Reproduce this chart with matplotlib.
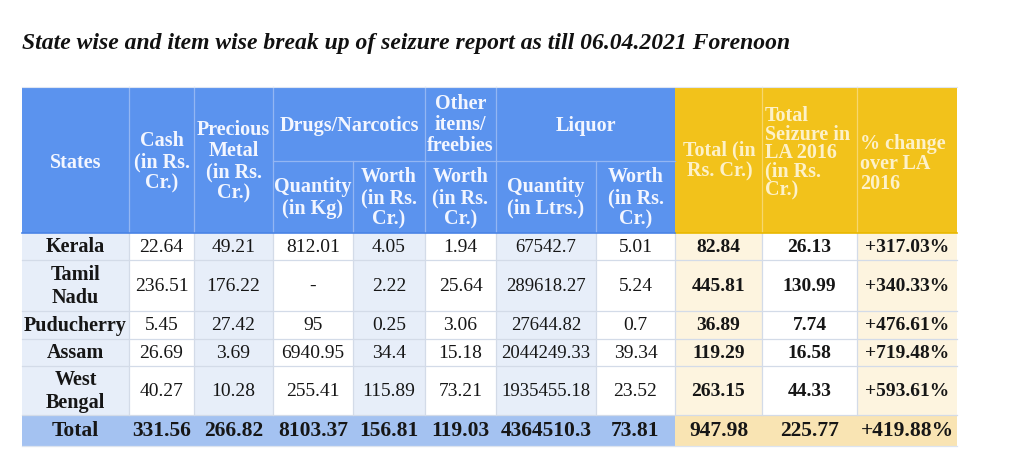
import matplotlib
matplotlib.use("Agg")
import matplotlib.pyplot as plt
from matplotlib.patches import Rectangle

# ---------------- data ----------------
title = "State wise and item wise break up of seizure report as till 06.04.2021 Forenoon"
states = ["Kerala", "Tamil\nNadu", "Puducherry", "Assam", "West\nBengal", "Total"]
cash = ["22.64", "236.51", "5.45", "26.69", "40.27", "331.56"]
precious_metal = ["49.21", "176.22", "27.42", "3.69", "10.28", "266.82"]
drugs_qty = ["812.01", "-", "95", "6940.95", "255.41", "8103.37"]
drugs_worth = ["4.05", "2.22", "0.25", "34.4", "115.89", "156.81"]
other_worth = ["1.94", "25.64", "3.06", "15.18", "73.21", "119.03"]
liquor_qty = ["67542.7", "289618.27", "27644.82", "2044249.33", "1935455.18", "4364510.3"]
liquor_worth = ["5.01", "5.24", "0.7", "39.34", "23.52", "73.81"]
total_rs = ["82.84", "445.81", "36.89", "119.29", "263.15", "947.98"]
total_2016 = ["26.13", "130.99", "7.74", "16.58", "44.33", "225.77"]
pct_change = ["+317.03%", "+340.33%", "+476.61%", "+719.48%", "+593.61%", "+419.88%"]

top_headers = ["States", "Cash\n(in Rs.\nCr.)", "Precious\nMetal\n(in Rs.\nCr.)",
               "Drugs/Narcotics", "Other\nitems/\nfreebies", "Liquor",
               "Total (in\nRs. Cr.)", "Total\nSeizure in\nLA 2016\n(in Rs.\nCr.)",
               "% change\nover LA\n2016"]
sub_headers = ["Quantity\n(in Kg)", "Worth\n(in Rs.\nCr.)", "Worth\n(in Rs.\nCr.)",
               "Quantity\n(in Ltrs.)", "Worth\n(in Rs.\nCr.)"]

columns = [states, cash, precious_metal, drugs_qty, drugs_worth, other_worth,
           liquor_qty, liquor_worth, total_rs, total_2016, pct_change]

# ---------------- layout ----------------
xb = [22, 129, 194, 273, 353, 425, 496, 596, 675, 762, 857, 957]
y_head_top, y_head_mid, y_head_bot = 87, 161, 233
yb = [233, 260, 311, 339, 366, 415, 446]

BLUE = "#5b93ee"
YELLOW = "#f2c21b"
BLUE_LIGHT = "#e7eef9"
YEL_LIGHT = "#fdf4df"
TOT_BLUE = "#a4c2f1"
TOT_YEL = "#f9e4b3"
GRID = "#d3dbe8"
HGRID_B = "#93b6f3"
HGRID_Y = "#f7d76e"
TXT = "#161616"
serif = ["Liberation Serif", "DejaVu Serif"]

fig = plt.figure(figsize=(10.33, 4.68), dpi=100)
ax = fig.add_axes([0, 0, 1, 1])
ax.set_xlim(0, 1033)
ax.set_ylim(468, 0)
ax.axis("off")
fig.patch.set_facecolor("white")

ax.text(22, 43, title, fontsize=17, fontweight="bold", fontstyle="italic",
        family=serif, color="#111111", ha="left", va="center")

def rect(x0, y0, x1, y1, fc, ec="none", lw=0.8, z=1):
    ax.add_patch(Rectangle((x0, y0), x1 - x0, y1 - y0, facecolor=fc,
                           edgecolor=ec, linewidth=lw, zorder=z))

# header backgrounds
rect(xb[0], y_head_top, xb[8], y_head_bot, BLUE, z=1)
rect(xb[8], y_head_top, xb[11], y_head_bot, YELLOW, z=1)

# header grid lines
for i in range(1, 8):
    y0 = y_head_top if i in (1, 2, 3, 5, 6) else y_head_mid
    ax.plot([xb[i], xb[i]], [y0, y_head_bot], color=HGRID_B, lw=0.9, zorder=2)
for i in (9, 10):
    ax.plot([xb[i], xb[i]], [y_head_top, y_head_bot], color=HGRID_Y, lw=0.9, zorder=2)
ax.plot([xb[3], xb[8]], [y_head_mid, y_head_mid], color=HGRID_B, lw=0.9, zorder=2)
ax.plot([xb[0], xb[11]], [y_head_top, y_head_top], color="#dfe6f2", lw=0.8, zorder=2)

HFS = 14.5
hb = dict(family=serif, fontweight="bold", fontsize=HFS, linespacing=1.07,
          ha="center", va="center", zorder=5)
HT_B = "#f3f6ff"
HT_Y = "#fdf1c9"
# top header texts
ax.text((xb[0] + xb[1]) / 2, 163, top_headers[0], color=HT_B, **hb)
ax.text((xb[1] + xb[2]) / 2, 162, top_headers[1], color=HT_B, **hb)
ax.text((xb[2] + xb[3]) / 2, 162, top_headers[2], color=HT_B, **hb)
ax.text((xb[3] + xb[5]) / 2, 126, top_headers[3], color=HT_B, **hb)
ax.text((xb[5] + xb[6]) / 2, 125, top_headers[4], color=HT_B, **hb)
ax.text((xb[6] + xb[8]) / 2, 126, top_headers[5], color=HT_B, **hb)
ax.text((xb[8] + xb[9]) / 2 + 1, 161, top_headers[6], color=HT_Y, **hb)
hl = dict(hb)
hl["ha"] = "left"
hl["linespacing"] = 0.9
ax.text(xb[9] + 3, 153, top_headers[7], color=HT_Y, **hl)
hl["linespacing"] = 1.0
ax.text(xb[10] + 3, 164, top_headers[8], color=HT_Y, **hl)
# sub header texts
sub_cols = [3, 4, 5, 6, 7]
for txt, c in zip(sub_headers, sub_cols):
    ax.text((xb[c] + xb[c + 1]) / 2, (y_head_mid + y_head_bot) / 2 + 1, txt,
            color=HT_B, **hb)

# data body
nrows = len(states)
for r in range(nrows):
    y0, y1 = yb[r], yb[r + 1]
    last = (r == nrows - 1)
    for c in range(len(columns)):
        x0, x1 = xb[c], xb[c + 1]
        if last:
            fc = TOT_BLUE if c < 8 else TOT_YEL
        elif c < 8:
            fc = BLUE_LIGHT if c % 2 == 0 else "white"
        else:
            fc = YEL_LIGHT if c in (8, 10) else "white"
        rect(x0, y0, x1, y1, fc, z=1)
        bold = last or c == 0 or c >= 8
        if last:
            fs = 15.5
        elif c == 0:
            fs = 14.5
        elif c >= 8:
            fs = 14
        elif c == 6:
            fs = 13.5
        else:
            fs = 14
        ax.text((x0 + x1) / 2, (y0 + y1) / 2 + 1, columns[c][r], family=serif,
                fontsize=fs, fontweight="bold" if bold else "normal", color=TXT,
                ha="center", va="center", linespacing=1.15, zorder=5)

# body grid lines
for i in range(1, 11):
    ax.plot([xb[i], xb[i]], [yb[0], yb[-2]], color=GRID, lw=0.9, zorder=2)
for j in range(1, nrows):
    ax.plot([xb[0], xb[11]], [yb[j], yb[j]], color=GRID, lw=0.9, zorder=2)
ax.plot([xb[0], xb[11]], [yb[-1], yb[-1]], color="#dde4ef", lw=0.9, zorder=2)
ax.plot([xb[8], xb[11]], [y_head_bot, y_head_bot], color="#e9b800", lw=1.2, zorder=3)
ax.plot([xb[0], xb[8]], [y_head_bot, y_head_bot], color="#4a84e6", lw=1.2, zorder=3)

fig.savefig("out.png", dpi=100, facecolor="white")
